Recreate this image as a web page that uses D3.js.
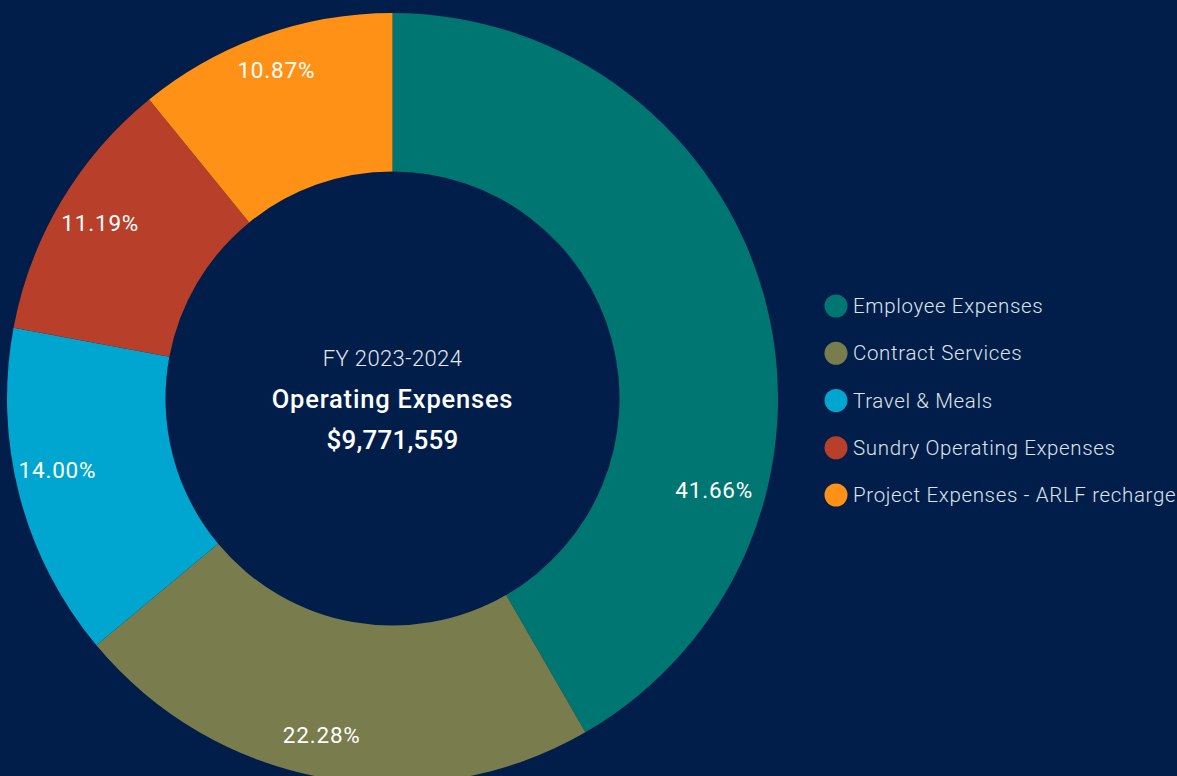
<!DOCTYPE html>
<html>
<head>
<meta charset="utf-8">
<script src="https://cdn.jsdelivr.net/npm/d3@7"></script>
<style>
  html, body { margin: 0; padding: 0; background: #011e4a; overflow: hidden; }
  svg { display: block; }
</style>
</head>
<body>
<svg id="chart" width="1177" height="776"></svg>
<script>
const categories = ["Employee Expenses", "Contract Services", "Travel & Meals", "Sundry Operating Expenses", "Project Expenses - ARLF recharge"];
const values = [41.66, 22.28, 14.00, 11.19, 10.87];
const colors = ["#007672", "#797c4c", "#00a6cf", "#b83f29", "#ff9216"];
const titleLines = ["FY 2023-2024", "Operating Expenses", "$9,771,559"];

const svg = d3.select("#chart");
const W = 1177, H = 776;
const cx = 392.5, cy = 398.5, outerR = 385.5, innerR = 227;

svg.append("rect").attr("width", W).attr("height", H).attr("fill", "#011e4a");

const pie = d3.pie().value(d => d).sort(null);
const arcs = pie(values);
const arc = d3.arc().innerRadius(innerR).outerRadius(outerR);

const g = svg.append("g").attr("transform", `translate(${cx},${cy})`);
g.selectAll("path.slice").data(arcs).enter().append("path")
  .attr("class", "slice")
  .attr("d", arc)
  .attr("fill", (d, i) => colors[i]);

// label placement tweaks (angle shift, radius) to follow the original layout
const labelShift = [0.545, 0.03, 0.04, 0.0, 0.0];
const labelRad = [335, 346, 343, 340, 347];
const fmt = d3.format(".2f");
g.selectAll("text.pct").data(arcs).enter().append("text")
  .attr("class", "pct")
  .attr("x", (d, i) => Math.sin((d.startAngle + d.endAngle) / 2 + labelShift[i]) * labelRad[i])
  .attr("y", (d, i) => -Math.cos((d.startAngle + d.endAngle) / 2 + labelShift[i]) * labelRad[i] - 2)
  .attr("text-anchor", "middle")
  .attr("dominant-baseline", "central")
  .attr("fill", "#ffffff")
  .attr("font-family", "Roboto, sans-serif")
  .attr("font-size", 22.5)
  .attr("font-weight", 400)
  .attr("letter-spacing", 0.8)
  .text(d => fmt(d.value) + "%");

// center text
const center = svg.append("g").attr("transform", `translate(${cx},0)`);
center.append("text").attr("x", 0).attr("y", 366)
  .attr("text-anchor", "middle").attr("fill", "#e6e9ef")
  .attr("font-family", "Roboto, sans-serif").attr("font-size", 22).attr("font-weight", 300)
  .attr("letter-spacing", 0.4)
  .text(titleLines[0]);
center.append("text").attr("x", 0).attr("y", 408)
  .attr("text-anchor", "middle").attr("fill", "#ffffff")
  .attr("font-family", "Roboto, sans-serif").attr("font-size", 25.5).attr("font-weight", 500)
  .attr("letter-spacing", 0.8)
  .text(titleLines[1]);
center.append("text").attr("x", 0).attr("y", 449)
  .attr("text-anchor", "middle").attr("fill", "#ffffff")
  .attr("font-family", "Roboto, sans-serif").attr("font-size", 26).attr("font-weight", 500)
  .attr("letter-spacing", 0.2)
  .text(titleLines[2]);

// legend
const legendY = d3.scalePoint().domain(categories).range([306, 495]);
const legend = svg.append("g");
const items = legend.selectAll("g.item").data(categories).enter().append("g")
  .attr("class", "item")
  .attr("transform", d => `translate(836,${legendY(d)})`);
items.append("circle").attr("r", 11.5).attr("fill", (d, i) => colors[i]);
items.append("text").attr("x", 17).attr("y", 0)
  .attr("dominant-baseline", "central")
  .attr("fill", "#dfe3ea")
  .attr("font-family", "Roboto, sans-serif").attr("font-size", 20.5).attr("font-weight", 300)
  .attr("letter-spacing", 0.65)
  .text(d => d);
</script>
</body>
</html>
